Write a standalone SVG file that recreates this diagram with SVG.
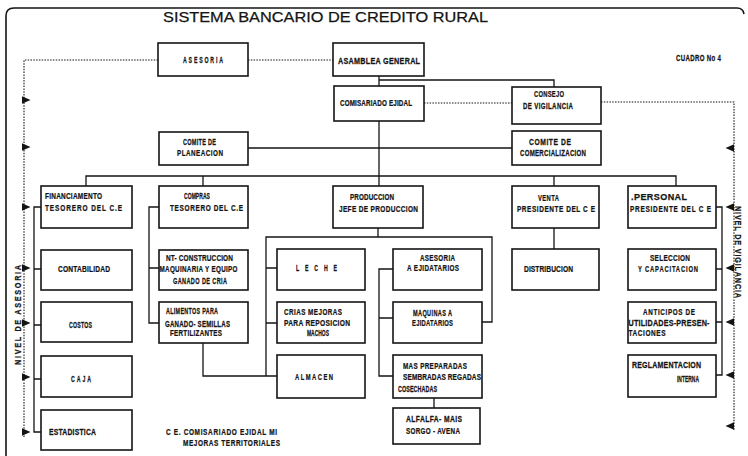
<svg xmlns="http://www.w3.org/2000/svg" width="748" height="456" viewBox="0 0 748 456">
  <defs>
    <style>
      .box { fill: none; stroke: #141414; stroke-width: 1.6; }
      .ln { fill: none; stroke: #141414; stroke-width: 1.3; }
      .dot { fill: none; stroke: #141414; stroke-width: 1.1; stroke-dasharray: 1.5 1.3; }
      /* condensed heavy lettering: each label carries its own horizontal squeeze */
      .t { font-family: "Liberation Sans", Arial, sans-serif; font-weight: bold; font-size: 9px; fill: #141414; stroke: #141414; stroke-width: 0.25; }
      .title { font-family: "Liberation Sans", Arial, sans-serif; font-size: 14px; fill: #141414; stroke: #141414; stroke-width: 0.25; }
      .arr { fill: #141414; }
    </style>
    <path id="arR" class="arr" d="M0,-3.8 L8.5,0 L0,3.8 Z"/>
    <path id="arL" class="arr" d="M0,-3.8 L-8.5,0 L0,3.8 Z"/>
  </defs>

  <rect width="748" height="456" fill="#ffffff"/>

  <!-- outer frame -->
  <path class="ln" d="M6,456 V16 Q6,8 14,8 H737 Q743,8 744,14" style="stroke-width:1.6"/>

  <!-- title and notes -->
  <text class="title" x="163" y="22" textLength="325" lengthAdjust="spacingAndGlyphs">SISTEMA  BANCARIO  DE  CREDITO  RURAL</text>
  <text class="t" transform="translate(676,61) scale(0.68,1)" textLength="66.2">CUADRO No  4</text>
  <text class="t" transform="translate(166,435) scale(0.72,1)" textLength="154.2">C E.  COMISARIADO  EJIDAL  MI</text>
  <text class="t" transform="translate(183,446) scale(0.72,1)" textLength="134.7">MEJORAS  TERRITORIALES</text>
  <text class="t" transform="translate(21.2,315) rotate(-90) scale(0.8,1)" text-anchor="middle" textLength="125">NIVEL  DE  ASESORIA</text>
  <text class="t" transform="translate(734.8,252) rotate(90) scale(0.8,1)" text-anchor="middle" textLength="115">NIVEL  DE  VIGILANCIA</text>

  <!-- connectors -->
  <g id="connectors">
    <path class="ln" d="M379,76 V86"/>
    <path class="ln" d="M379,80 H554 V87"/>
    <path class="ln" d="M379,121 V176"/>
    <path class="ln" d="M248,148 H512"/>
    <path class="ln" d="M86,186 V176 H676 V186 M203,176 V186 M379,176 V186 M554,176 V186"/>
    <path class="ln" d="M41,207 H34 V432 H41 M34,269 H41 M34,325 H41 M34,379 H41"/>
    <path class="ln" d="M159,207 H149 V323 H159 M149,268 H159"/>
    <path class="ln" d="M203,343 V376 H277"/>
    <path class="ln" d="M378,228 V237 M266,376 V237 H492 V322 H482 M266,268 H277 M266,323 H277"/>
    <path class="ln" d="M393,269 H379 V376 H393 M379,318 H393"/>
    <path class="ln" d="M434,398 V408"/>
    <path class="ln" d="M554,228 V249"/>
    <path class="ln" d="M716,207 H722 V375 H716 M716,269 H722 M716,322 H722"/>

    <!-- advisory and supervision levels -->
    <path class="dot" d="M158,60 H24 V438"/>
    <path class="dot" d="M248,60 H333"/>
    <path class="dot" d="M424,103 H512"/>
    <path class="dot" d="M601,102 H734 V430"/>

    <use href="#arR" x="22" y="100"/>
    <use href="#arR" x="22" y="147"/>
    <use href="#arR" x="22" y="207"/>
    <use href="#arR" x="22" y="268"/>
    <use href="#arR" x="22" y="323"/>
    <use href="#arR" x="22" y="377"/>
    <use href="#arR" x="22" y="432"/>

    <use href="#arL" x="734" y="148"/>
    <use href="#arL" x="734" y="207"/>
    <use href="#arL" x="734" y="268"/>
    <use href="#arL" x="734" y="322"/>
    <use href="#arL" x="734" y="375"/>
    <use href="#arL" x="734" y="426"/>
  </g>

  <!-- nodes -->
  <g id="asesoria">
    <rect class="box" x="158" y="43" width="90" height="33"/>
    <text class="t" transform="translate(183,63) scale(0.58,1)" textLength="69">ASESORIA</text>
  </g>
  <g id="asamblea-general">
    <rect class="box" x="333" y="43" width="91" height="33"/>
    <text class="t" transform="translate(338,64) scale(0.8,1)" textLength="102.5">ASAMBLEA  GENERAL</text>
  </g>
  <g id="comisariado-ejidal">
    <rect class="box" x="334" y="86" width="90" height="35"/>
    <text class="t" transform="translate(340,106) scale(0.7,1)" textLength="102.9">COMISARIADO  EJIDAL</text>
  </g>
  <g id="consejo-vigilancia">
    <rect class="box" x="512" y="87" width="89" height="37"/>
    <text class="t" transform="translate(534,97) scale(0.65,1)" textLength="46.2">CONSEJO</text>
    <text class="t" transform="translate(523,109) scale(0.68,1)" textLength="73.5">DE  VIGILANCIA</text>
  </g>
  <g id="comite-planeacion">
    <rect class="box" x="159" y="132" width="89" height="33"/>
    <text class="t" transform="translate(183,145) scale(0.62,1)" textLength="53.2">COMITE  DE</text>
    <text class="t" transform="translate(177,156) scale(0.7,1)" textLength="65.7">PLANEACION</text>
  </g>
  <g id="comite-comercializacion">
    <rect class="box" x="512" y="131" width="89" height="34"/>
    <text class="t" transform="translate(529,145) scale(0.75,1)" textLength="56">COMITE  DE</text>
    <text class="t" transform="translate(520,156) scale(0.68,1)" textLength="97">COMERCIALIZACION</text>
  </g>

  <g id="financiamento">
    <rect class="box" x="41" y="186" width="91" height="42"/>
    <text class="t" transform="translate(45,199) scale(0.72,1)" textLength="79.2">FINANCIAMENTO</text>
    <text class="t" transform="translate(45,211) scale(0.72,1)" textLength="106.9">TESORERO  DEL  C.E</text>
  </g>
  <g id="compras">
    <rect class="box" x="159" y="186" width="89" height="42"/>
    <text class="t" transform="translate(184,199) scale(0.56,1)" textLength="46.4">COMPRAS</text>
    <text class="t" transform="translate(170,211) scale(0.72,1)" textLength="101.4">TESORERO  DEL  C.E</text>
  </g>
  <g id="produccion">
    <rect class="box" x="333" y="186" width="90" height="42"/>
    <text class="t" transform="translate(350,200) scale(0.7,1)" textLength="62.9">PRODUCCION</text>
    <text class="t" transform="translate(339,212) scale(0.72,1)" textLength="109.7">JEFE  DE  PRODUCCION</text>
  </g>
  <g id="venta">
    <rect class="box" x="512" y="186" width="87" height="42"/>
    <text class="t" transform="translate(538,201) scale(0.65,1)" textLength="32.3">VENTA</text>
    <text class="t" transform="translate(517,212) scale(0.72,1)" textLength="108.3">PRESIDENTE  DEL  C E</text>
  </g>
  <g id="personal">
    <rect class="box" x="628" y="186" width="88" height="42"/>
    <text class="t" transform="translate(631,200)" textLength="56">.PERSONAL</text>
    <text class="t" transform="translate(630,212) scale(0.72,1)" textLength="112.5">PRESIDENTE  DEL  C E</text>
  </g>

  <g id="contabilidad">
    <rect class="box" x="41" y="250" width="91" height="40"/>
    <text class="t" transform="translate(58,272) scale(0.74,1)" textLength="70.3">CONTABILIDAD</text>
  </g>
  <g id="construccion">
    <rect class="box" x="159" y="250" width="89" height="40"/>
    <text class="t" transform="translate(166,261) scale(0.72,1)" textLength="93">NT- CONSTRUCCION</text>
    <text class="t" transform="translate(159.5,272) scale(0.7,1)" textLength="111.4">MAQUINARIA  Y  EQUIPO</text>
    <text class="t" transform="translate(173,284) scale(0.62,1)" textLength="87.1">GANADO  DE  CRIA</text>
  </g>
  <g id="leche">
    <rect class="box" x="277" y="249" width="88" height="41"/>
    <text class="t" transform="translate(296,271) scale(0.58,1)" textLength="70.7">L  E  C  H  E</text>
  </g>
  <g id="asesoria-ejidatarios">
    <rect class="box" x="393" y="249" width="89" height="41"/>
    <text class="t" transform="translate(420,261) scale(0.7,1)" textLength="50">ASESORIA</text>
    <text class="t" transform="translate(407,271) scale(0.7,1)" textLength="74.3">A  EJIDATARIOS</text>
  </g>
  <g id="distribucion">
    <rect class="box" x="512" y="249" width="87" height="41"/>
    <text class="t" transform="translate(524,272) scale(0.74,1)" textLength="66.2">DISTRIBUCION</text>
  </g>
  <g id="seleccion">
    <rect class="box" x="628" y="249" width="88" height="41"/>
    <text class="t" transform="translate(650,261) scale(0.72,1)" textLength="55.6">SELECCION</text>
    <text class="t" transform="translate(638,272) scale(0.65,1)" textLength="92.3">Y  CAPACITACION</text>
  </g>

  <g id="costos">
    <rect class="box" x="41" y="302" width="91" height="40"/>
    <text class="t" transform="translate(69,328) scale(0.58,1)" textLength="39.7">COSTOS</text>
  </g>
  <g id="alimentos">
    <rect class="box" x="159" y="302" width="89" height="41"/>
    <text class="t" transform="translate(166,314) scale(0.6,1)" textLength="86.7">ALIMENTOS  PARA</text>
    <text class="t" transform="translate(165,326.5) scale(0.68,1)" textLength="95.6">GANADO- SEMILLAS</text>
    <text class="t" transform="translate(170,336) scale(0.7,1)" textLength="74.3">FERTILIZANTES</text>
  </g>
  <g id="crias">
    <rect class="box" x="277" y="302" width="88" height="41"/>
    <text class="t" transform="translate(284,315) scale(0.7,1)" textLength="82.9">CRIAS  MEJORAS</text>
    <text class="t" transform="translate(284,326) scale(0.74,1)" textLength="89.2">PARA  REPOSICION</text>
    <text class="t" transform="translate(307,336) scale(0.55,1)" textLength="40">MACHOS</text>
  </g>
  <g id="maquinas">
    <rect class="box" x="393" y="302" width="89" height="41"/>
    <text class="t" transform="translate(413,316) scale(0.62,1)" textLength="62.9">MAQUINAS  A</text>
    <text class="t" transform="translate(412,326) scale(0.65,1)" textLength="63.1">EJIDATARIOS</text>
  </g>
  <g id="anticipos">
    <rect class="box" x="628" y="302" width="88" height="41"/>
    <text class="t" transform="translate(643,315) scale(0.7,1)" textLength="74.3">ANTICIPOS  DE</text>
    <text class="t" transform="translate(628.5,326) scale(0.8,1)" textLength="101.2">UTILIDADES-PRESEN-</text>
    <text class="t" transform="translate(628.5,336) scale(0.72,1)" textLength="51.4">TACIONES</text>
  </g>

  <g id="caja">
    <rect class="box" x="41" y="356" width="91" height="41"/>
    <text class="t" transform="translate(71,382) scale(0.58,1)" textLength="34.5">CAJA</text>
  </g>
  <g id="almacen">
    <rect class="box" x="277" y="355" width="88" height="43"/>
    <text class="t" transform="translate(295,380) scale(0.65,1)" textLength="58.5">ALMACEN</text>
  </g>
  <g id="mas-preparadas">
    <rect class="box" x="393" y="355" width="89" height="43"/>
    <text class="t" transform="translate(403,369) scale(0.7,1)" textLength="91.4">MAS  PREPARADAS</text>
    <text class="t" transform="translate(403,380) scale(0.72,1)" textLength="108.3">SEMBRADAS REGADAS</text>
    <text class="t" transform="translate(398,392) scale(0.6,1)" textLength="65">COSECHADAS</text>
  </g>
  <g id="reglamentacion">
    <rect class="box" x="628" y="355" width="88" height="42"/>
    <text class="t" transform="translate(632,368) scale(0.78,1)" textLength="88.5">REGLAMENTACION</text>
    <text class="t" transform="translate(677,382) scale(0.55,1)" textLength="40">INTERNA</text>
  </g>

  <g id="estadistica">
    <rect class="box" x="41" y="410" width="91" height="40"/>
    <text class="t" transform="translate(49,435) scale(0.76,1)" textLength="61.8">ESTADISTICA</text>
  </g>
  <g id="alfalfa">
    <rect class="box" x="393" y="408" width="87" height="36"/>
    <text class="t" transform="translate(406,422) scale(0.75,1)" textLength="74.7">ALFALFA- MAIS</text>
    <text class="t" transform="translate(406,434) scale(0.7,1)" textLength="77.1">SORGO - AVENA</text>
  </g>
</svg>
